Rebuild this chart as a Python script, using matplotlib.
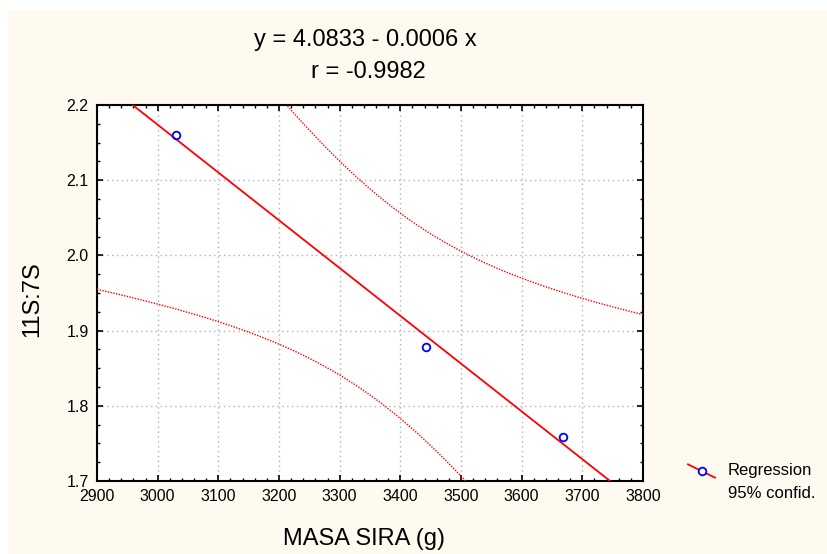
import numpy as np
import matplotlib
matplotlib.use('Agg')
import matplotlib.pyplot as plt
from matplotlib.patches import Rectangle
from matplotlib.lines import Line2D
from matplotlib.ticker import MultipleLocator

plt.rcParams['font.family'] = ['Liberation Sans', 'DejaVu Sans']

# data
masa = np.array([3030, 3442, 3668])
ratio = np.array([2.160, 1.878, 1.759])
eq_text = 'y = 4.0833 - 0.0006 x'
r_text = 'r = -0.9982'
x_label = 'MASA SIRA (g)'
y_label = '11S:7S'
xticks = [2900, 3000, 3100, 3200, 3300, 3400, 3500, 3600, 3700, 3800]
yticks = [1.7, 1.8, 1.9, 2.0, 2.1, 2.2]

# linear fit + 95% confidence band for the mean
n = len(masa)
b, a = np.polyfit(masa, ratio, 1)
resid = ratio - (a + b * masa)
s = np.sqrt(np.sum(resid ** 2) / (n - 2))
t_crit = 12.706  # t(0.975, df=1)
xx = np.linspace(2900, 3800, 400)
yy = a + b * xx
sxx = np.sum((masa - masa.mean()) ** 2)
hw = t_crit * s * np.sqrt(1 / n + (xx - masa.mean()) ** 2 / sxx)

fig = plt.figure(figsize=(8.27, 5.54), dpi=100)
fig.patch.set_facecolor('white')
fig.patches.append(Rectangle((8 / 827, 0), 1, 1 - 10 / 554, transform=fig.transFigure,
                             facecolor='#fefaf0', edgecolor='none', zorder=-10))

ax = fig.add_axes([97 / 827, 73 / 554, 546 / 827, 376 / 554])
ax.set_facecolor('white')
ax.plot(xx, yy, color='red', lw=1.3, zorder=3)
ax.plot(xx, yy + hw, color='red', lw=1.0, ls=(0, (1, 1)), zorder=3)
ax.plot(xx, yy - hw, color='red', lw=1.0, ls=(0, (1, 1)), zorder=3)
ax.plot(masa, ratio, 'o', mfc='none', mec='blue', mew=1.3, ms=5.5, zorder=4)

ax.set_xlim(2900, 3800)
ax.set_ylim(1.7, 2.2)
ax.set_xticks(xticks)
ax.set_yticks(yticks)
ax.set_yticklabels([f'{v:.1f}' for v in yticks])
ax.xaxis.set_minor_locator(MultipleLocator(20))
ax.yaxis.set_minor_locator(MultipleLocator(0.025))
ax.tick_params(which='both', direction='in', top=True, right=True, labelsize=11.5, colors='black')
ax.tick_params(which='major', length=4, width=1.2, pad=6)
ax.tick_params(which='minor', length=2.5, width=1)
ax.grid(True, which='major', color='#b0b0b0', ls=(0, (1, 2.5)), lw=1)
for sp in ax.spines.values():
    sp.set_linewidth(1.5)

# axis labels and title placed in figure pixels
fig.text(364 / 827, 1 - 545 / 554, x_label, ha='center', va='baseline', fontsize=17)
fig.text(32 / 827, 1 - 299 / 554, y_label, ha='center', va='center', rotation=90, fontsize=17)
fig.text(365 / 827, 1 - 46 / 554, eq_text, ha='center', va='baseline', fontsize=17)
fig.text(368 / 827, 1 - 78 / 554, r_text, ha='center', va='baseline', fontsize=17)

# legend
lx0, lx1, ly = 688 / 827, 715 / 827, 1 - 471 / 554
fig.add_artist(Line2D([lx0, lx1], [ly + 0.012, ly - 0.012], transform=fig.transFigure,
                      color='red', lw=1.3))
fig.add_artist(Line2D([(lx0 + lx1) / 2], [ly], transform=fig.transFigure, marker='o',
                      mfc='white', mec='blue', mew=1.3, ms=5.5, ls='none'))
fig.text(728 / 827, ly, 'Regression', va='center', fontsize=12)
fig.text(728 / 827, 1 - 494 / 554, '95% confid.', va='center', fontsize=12)

fig.savefig('out.png', dpi=100, facecolor=fig.get_facecolor())
